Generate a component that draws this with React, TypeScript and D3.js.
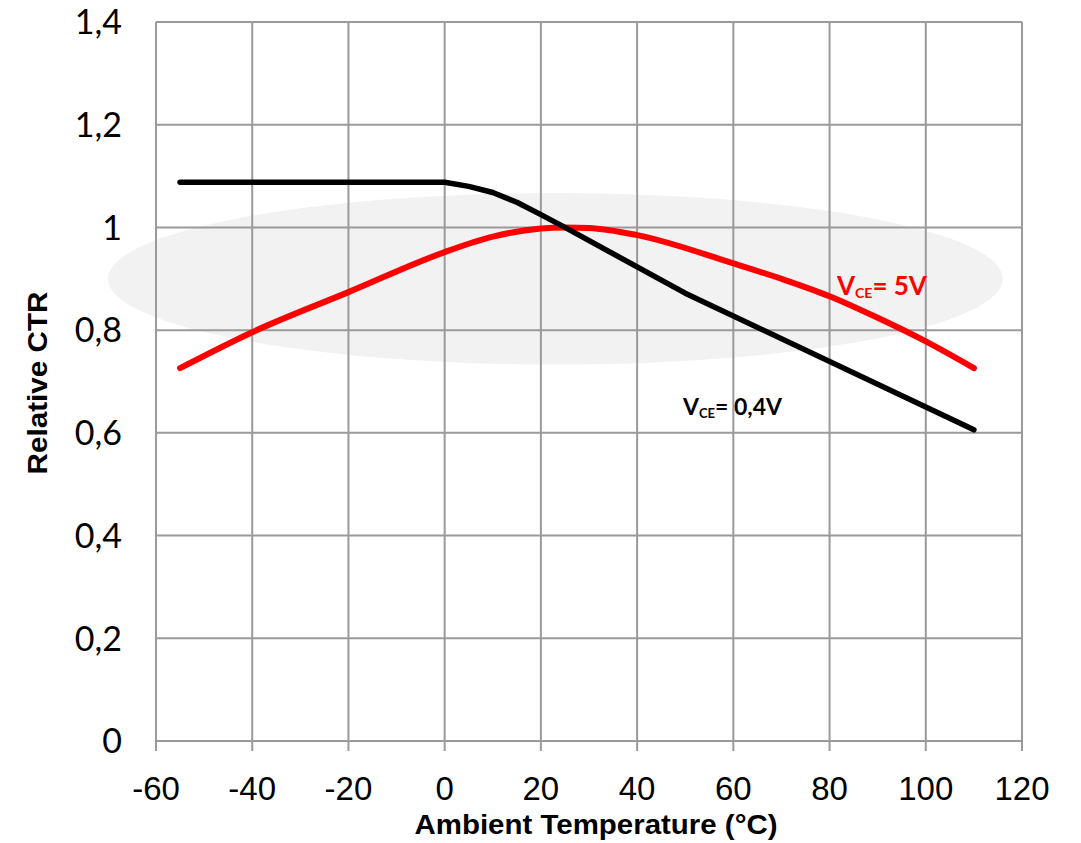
import React from 'react';
import * as d3 from 'd3';

// values
const xTicks = [-60, -40, -20, 0, 20, 40, 60, 80, 100, 120];
const yTicks = [0, 0.2, 0.4, 0.6, 0.8, 1, 1.2, 1.4];

const lowVceTemp = [-55, 0, 5, 10, 15, 20, 25, 50, 110];
const lowVceCtr = [1.088, 1.088, 1.08, 1.068, 1.049, 1.025, 1.0, 0.872, 0.606];

const highVceTemp = [-55, -40, -20, 0, 10, 20, 25, 30, 40, 60, 70, 80, 90, 100, 110];
const highVceCtr = [0.726, 0.796, 0.874, 0.952, 0.982, 0.998, 1.0, 0.999, 0.985, 0.93, 0.9, 0.866, 0.824, 0.778, 0.726];

// shaded highlight band (data units)
const bandCenter = [23, 0.9];
const bandRadius = [93, 0.167];

const W = 1081;
const H = 843;
const plot = { left: 156, right: 1022, top: 22, bottom: 741 };

const fmtY = (v: number) => String(+v.toFixed(1)).replace('.', ',');

export default function App() {
  const x = d3.scaleLinear().domain([-60, 120]).range([plot.left, plot.right]);
  const y = d3.scaleLinear().domain([0, 1.4]).range([plot.bottom, plot.top]);

  const mk = (ts: number[], vs: number[], curve: d3.CurveFactory) =>
    d3
      .line<[number, number]>()
      .x((d) => x(d[0]))
      .y((d) => y(d[1]))
      .curve(curve)(ts.map((t, i) => [t, vs[i]] as [number, number])) || '';

  const grid = '#9a9a9a';
  const calibri = "Lato, 'Open Sans', sans-serif";
  const arial = "'Liberation Sans', Arial, sans-serif";

  return (
    <svg
      width={W}
      height={H}
      style={{ position: 'absolute', left: 0, top: 0, background: '#fff' }}
    >
      <ellipse
        cx={x(bandCenter[0])}
        cy={y(bandCenter[1])}
        rx={x(bandCenter[0] + bandRadius[0]) - x(bandCenter[0])}
        ry={y(bandCenter[1] - bandRadius[1]) - y(bandCenter[1])}
        fill="#f2f2f2"
      />

      {yTicks.map((t) => (
        <line key={'h' + t} x1={plot.left} x2={plot.right} y1={y(t)} y2={y(t)} stroke={grid} strokeWidth={2} />
      ))}
      {xTicks.map((t) => (
        <line key={'v' + t} x1={x(t)} x2={x(t)} y1={plot.top} y2={plot.bottom + 10} stroke={grid} strokeWidth={2} />
      ))}

      {yTicks.map((t) => (
        <text
          key={'yl' + t}
          x={122}
          y={y(t)}
          dy="0.36em"
          textAnchor="end"
          fontFamily={calibri}
          fontSize={34}
          fill="#000"
        >
          {fmtY(t)}
        </text>
      ))}
      {xTicks.map((t) => (
        <text
          key={'xl' + t}
          x={x(t)}
          y={800}
          textAnchor="middle"
          fontFamily={arial}
          fontSize={33}
          fill="#000"
        >
          {t}
        </text>
      ))}

      <path d={mk(highVceTemp, highVceCtr, d3.curveMonotoneX)} fill="none" stroke="#ff0000" strokeWidth={6} strokeLinecap="round" strokeLinejoin="round" />
      <path d={mk(lowVceTemp, lowVceCtr, d3.curveLinear)} fill="none" stroke="#000" strokeWidth={5.5} strokeLinecap="round" strokeLinejoin="round" />

      <text x={837} y={295} fontFamily={calibri} fontWeight="bold" fontSize={26} fill="#ff0000">
        V<tspan fontSize={14} dy={3}>CE</tspan>
        <tspan dy={-3}>= 5V</tspan>
      </text>
      <text x={683} y={415} fontFamily={calibri} fontWeight="bold" fontSize={23} fill="#000">
        V<tspan fontSize={13} dy={3}>CE</tspan>
        <tspan dy={-3}>= 0,4V</tspan>
      </text>

      <text
        x={596}
        y={834}
        textAnchor="middle"
        fontFamily={arial}
        fontWeight="bold"
        fontSize={27}
        textLength={363}
        lengthAdjust="spacingAndGlyphs"
        fill="#000"
      >
        Ambient Temperature (°C)
      </text>
      <text
        transform={`translate(47, 383) rotate(-90)`}
        textAnchor="middle"
        fontFamily={arial}
        fontWeight="bold"
        fontSize={27}
        textLength={183}
        lengthAdjust="spacingAndGlyphs"
        fill="#000"
      >
        Relative CTR
      </text>
    </svg>
  );
}
